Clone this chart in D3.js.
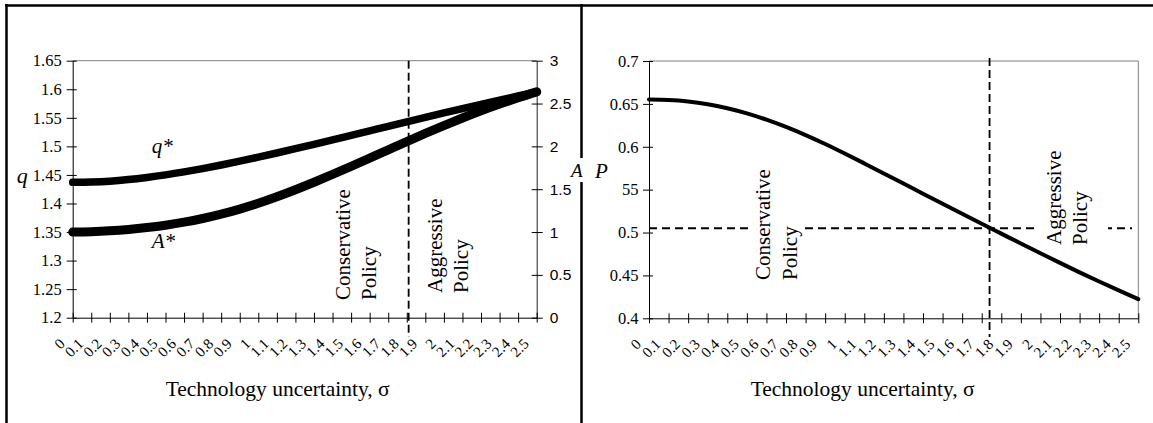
<!DOCTYPE html>
<html>
<head>
<meta charset="utf-8">
<script src="https://cdn.jsdelivr.net/npm/d3@7"></script>
<style>
  html, body { margin: 0; padding: 0; background: #fff; }
  svg { display: block; }
  .serif { font-family: "Liberation Serif", "Times New Roman", serif; }
  .sans { font-family: "Liberation Sans", Arial, sans-serif; }
</style>
</head>
<body>
<svg id="chart" width="1153" height="423"></svg>
<script>
// ---------- DATA ----------
const sigma = [0,0.1,0.2,0.3,0.4,0.5,0.6,0.7,0.8,0.9,1,1.1,1.2,1.3,1.4,1.5,1.6,1.7,1.8,1.9,2,2.1,2.2,2.3,2.4,2.5];
const sigmaLabels = ["0","0.1","0.2","0.3","0.4","0.5","0.6","0.7","0.8","0.9","1","1.1","1.2","1.3","1.4","1.5","1.6","1.7","1.8","1.9","2","2.1","2.2","2.3","2.4","2.5"];
const qStar = [1.437,1.4375,1.439,1.4418,1.4456,1.4501,1.4553,1.4611,1.4674,1.4741,1.4811,1.4884,1.4959,1.5036,1.5114,1.5193,1.5272,1.5351,1.5430,1.5508,1.5585,1.5661,1.5736,1.5810,1.5882,1.5952];
const aStar = [1.000,1.004,1.014,1.030,1.052,1.080,1.115,1.158,1.209,1.268,1.336,1.412,1.494,1.581,1.672,1.766,1.862,1.959,2.056,2.151,2.243,2.331,2.415,2.494,2.568,2.637];
const pStar = [0.655,0.6545,0.6528,0.6496,0.6449,0.6389,0.6316,0.6231,0.6136,0.6032,0.5921,0.5806,0.5689,0.5571,0.5453,0.5335,0.5218,0.5102,0.4987,0.4872,0.4758,0.4646,0.4536,0.4429,0.4325,0.4224];
const qTicks = [1.2,1.25,1.3,1.35,1.4,1.45,1.5,1.55,1.6,1.65];
const qTickLabels = ["1.2","1.25","1.3","1.35","1.4","1.45","1.5","1.55","1.6","1.65"];
const aTicks = [0,0.5,1,1.5,2,2.5,3];
const aTickLabels = ["0","0.5","1","1.5","2","2.5","3"];
const pTicks = [0.4,0.45,0.5,0.55,0.6,0.65,0.7];
const pTickLabels = ["0.4","0.45","0.5","55","0.6","0.65","0.7"];
const leftThreshold = 1.81;
const rightThreshold = 1.74;
const pThreshold = 0.505;
const xTitle = "Technology uncertainty, \u03C3";

// ---------- LAYOUT ----------
const svg = d3.select("#chart");
svg.append("rect").attr("width",1153).attr("height",423).attr("fill","#fff");

const L = {x0:72.7, x1:536.7, y0:60.7, y1:317.7};
const R = {x0:649, x1:1138.3, y0:61, y1:318.3};

const xL = d3.scaleLinear().domain([0,2.5]).range([L.x0,L.x1]);
const yQ = d3.scaleLinear().domain([1.2,1.65]).range([L.y1,L.y0]);
const yA = d3.scaleLinear().domain([0,3]).range([L.y1,L.y0]);
const xR = d3.scaleLinear().domain([0,2.5]).range([R.x0,R.x1]);
const yP = d3.scaleLinear().domain([0.4,0.7]).range([R.y1,R.y0]);

// panel frames
svg.append("line").attr("x1",5).attr("x2",1153).attr("y1",5.5).attr("y2",5.5).attr("stroke","#000").attr("stroke-width",2.5);
svg.append("line").attr("x1",6.5).attr("x2",6.5).attr("y1",4).attr("y2",423).attr("stroke","#000").attr("stroke-width",2.5);
svg.append("line").attr("x1",581.5).attr("x2",581.5).attr("y1",4).attr("y2",423).attr("stroke","#000").attr("stroke-width",2.5);

// plot area borders (grey)
svg.append("line").attr("x1",L.x0).attr("x2",L.x1).attr("y1",L.y0).attr("y2",L.y0).attr("stroke","#808080").attr("stroke-width",1);
svg.append("line").attr("x1",R.x0).attr("x2",R.x1).attr("y1",R.y0).attr("y2",R.y0).attr("stroke","#808080").attr("stroke-width",1);
svg.append("line").attr("x1",R.x1).attr("x2",R.x1).attr("y1",R.y0).attr("y2",R.y1).attr("stroke","#808080").attr("stroke-width",1);

function crossTicks(g, dir, n) {
  g.attr("font-family",null);
  g.select(".domain").attr("stroke","#000").attr("stroke-width",1);
  g.selectAll(".tick line").attr("stroke","#000").attr("stroke-width",1);
  if (dir === "x") g.selectAll(".tick line").attr("y1",-n);
  else g.selectAll(".tick line").attr("x1", dir === "left" ? n : -n);
}

function xAxis(xs, y) {
  const g = svg.append("g").attr("transform",`translate(0,${y})`)
    .call(d3.axisBottom(xs).tickValues(sigma).tickSize(5).tickSizeOuter(0).tickFormat(""));
  crossTicks(g, "x", 5);
  svg.append("g").selectAll("text").data(sigma).join("text")
    .attr("class","serif")
    .attr("font-size",15)
    .attr("text-anchor","end")
    .attr("transform",(d)=>`translate(${xs(d)-7},${y+27}) rotate(-45)`)
    .text((d,i)=>sigmaLabels[i]);
}

function rotLabel(lines, xBase, yBottom, spacing, box) {
  if (box) svg.append("rect").attr("x",box[0]).attr("y",box[1]).attr("width",box[2]).attr("height",box[3]).attr("fill","#fff");
  const g = svg.append("g").attr("transform",`translate(${xBase},${yBottom}) rotate(-90)`);
  lines.forEach((t,i)=>{
    g.append("text").attr("class","serif").attr("font-size",21).attr("x",0).attr("y",i*spacing).text(t);
  });
}

// ---------- LEFT CHART ----------
{
  const gq = svg.append("g").attr("transform",`translate(${L.x0},0)`)
    .call(d3.axisLeft(yQ).tickValues(qTicks).tickSize(6).tickSizeOuter(0).tickFormat((d,i)=>qTickLabels[i]));
  crossTicks(gq, "left", 4);
  gq.selectAll(".tick text").attr("class","serif").attr("font-size",16.5).attr("fill","#000").attr("x",-11);

  const ga = svg.append("g").attr("transform",`translate(${L.x1},0)`)
    .call(d3.axisRight(yA).tickValues(aTicks).tickSize(6).tickSizeOuter(0).tickFormat((d,i)=>aTickLabels[i]));
  crossTicks(ga, "right", 5);
  ga.selectAll(".tick text").attr("class","sans").attr("font-size",15.5).attr("fill","#000").attr("x",13);
  ga.select(".domain").attr("stroke","#222");

  xAxis(xL, L.y1);

  svg.append("line").attr("x1",xL(leftThreshold)).attr("x2",xL(leftThreshold))
    .attr("y1",L.y0).attr("y2",337).attr("stroke","#000").attr("stroke-width",1.8).attr("stroke-dasharray","8,4");

  const lineQ = d3.line().x((d,i)=>xL(sigma[i])).y(d=>yQ(d)).curve(d3.curveMonotoneX);
  const lineA = d3.line().x((d,i)=>xL(sigma[i])).y(d=>yA(d)).curve(d3.curveMonotoneX);
  svg.append("path").attr("d",lineA(aStar)).attr("fill","none").attr("stroke","#000").attr("stroke-width",9).attr("stroke-linecap","round").attr("stroke-linejoin","round");
  svg.append("path").attr("d",lineQ(qStar)).attr("fill","none").attr("stroke","#000").attr("stroke-width",7.5).attr("stroke-linecap","round").attr("stroke-linejoin","round");

  svg.append("text").attr("class","serif").attr("font-style","italic").attr("font-size",21)
    .attr("x",151.7).attr("y",152.5).text("q*");
  svg.append("text").attr("class","serif").attr("font-style","italic").attr("font-size",21)
    .attr("x",151.7).attr("y",248).text("A*");

  rotLabel(["Conservative","Policy"], 349.5, 300, 26);
  rotLabel(["Aggressive","Policy"], 442, 293, 26);

  svg.append("text").attr("class","serif").attr("font-style","italic").attr("font-size",22)
    .attr("x",16.7).attr("y",183).text("q");
  svg.append("text").attr("class","serif").attr("x",165.7).attr("y",396)
    .attr("font-size",21.5).attr("textLength",224).attr("lengthAdjust","spacingAndGlyphs").text(xTitle);
}

// axis label A with white box over divider
svg.append("rect").attr("x",569).attr("y",158).attr("width",16).attr("height",24).attr("fill","#fff");
svg.append("text").attr("class","serif").attr("font-style","italic").attr("font-size",19)
  .attr("x",571).attr("y",177).text("A");
svg.append("text").attr("class","serif").attr("font-style","italic").attr("font-size",21)
  .attr("x",595).attr("y",178).text("P");

// ---------- RIGHT CHART ----------
{
  const gp = svg.append("g").attr("transform",`translate(${R.x0},0)`)
    .call(d3.axisLeft(yP).tickValues(pTicks).tickSize(6).tickSizeOuter(0).tickFormat((d,i)=>pTickLabels[i]));
  crossTicks(gp, "left", 4);
  gp.selectAll(".tick text").attr("class","serif").attr("font-size",16.5).attr("fill","#000").attr("x",-10.5);

  xAxis(xR, R.y1);

  svg.append("line").attr("x1",R.x0).attr("x2",1132).attr("y1",yP(pThreshold)).attr("y2",yP(pThreshold))
    .attr("stroke","#000").attr("stroke-width",1.8).attr("stroke-dasharray","8,5");
  svg.append("line").attr("x1",xR(rightThreshold)).attr("x2",xR(rightThreshold))
    .attr("y1",58).attr("y2",337).attr("stroke","#000").attr("stroke-width",1.8).attr("stroke-dasharray","8,4");

  const lineP = d3.line().x((d,i)=>xR(sigma[i])).y(d=>yP(d)).curve(d3.curveMonotoneX);
  svg.append("path").attr("d",lineP(pStar)).attr("fill","none").attr("stroke","#000").attr("stroke-width",4).attr("stroke-linecap","round");

  rotLabel(["Conservative","Policy"], 770, 280, 27, [751,165,49,120]);
  rotLabel(["Aggressive","Policy"], 1060.5, 245, 26, [1038,146,70,104]);

  svg.append("text").attr("class","serif").attr("x",750.7).attr("y",396)
    .attr("font-size",21.5).attr("textLength",224).attr("lengthAdjust","spacingAndGlyphs").text(xTitle);
}
</script>
</body>
</html>
